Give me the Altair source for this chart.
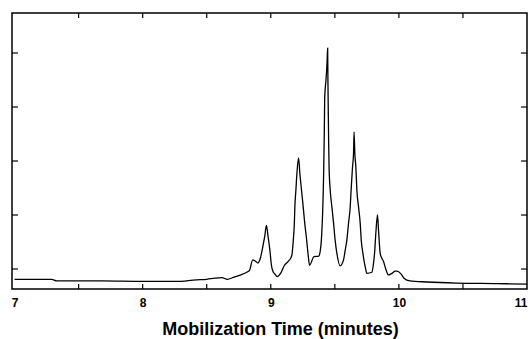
import altair as alt
import pandas as pd

# Trace (time in minutes, signal in tick units)
time_min = [7.0, 7.29, 7.33, 7.68, 8.0, 8.26, 8.42, 8.5, 8.564, 8.62, 8.66,
            8.713, 8.766, 8.82, 8.833, 8.859, 8.883, 8.899, 8.915, 8.939, 8.953,
            8.966, 8.979, 8.993, 9.005, 9.018, 9.031, 9.05, 9.079, 9.107, 9.132,
            9.155, 9.165, 9.171, 9.176, 9.184, 9.188, 9.196, 9.204, 9.217, 9.227,
            9.24, 9.253, 9.265, 9.28, 9.293, 9.303, 9.337, 9.375, 9.387, 9.395,
            9.413, 9.418, 9.421, 9.431, 9.439, 9.444, 9.446, 9.449, 9.452, 9.455,
            9.464, 9.477, 9.49, 9.502, 9.516, 9.541, 9.568, 9.581, 9.594, 9.607,
            9.62, 9.627, 9.638, 9.646, 9.65, 9.656, 9.664, 9.672, 9.685, 9.698,
            9.706, 9.719, 9.737, 9.75, 9.789, 9.802, 9.81, 9.82, 9.833, 9.841,
            9.854, 9.867, 9.88, 9.9, 9.919, 9.945, 9.971, 9.986, 10.016, 10.04,
            10.086, 10.22, 10.45, 10.77, 11.0]
signal = [-0.19, -0.19, -0.22, -0.22, -0.23, -0.23, -0.20, -0.19, -0.17, -0.16,
          -0.19, -0.15, -0.11, -0.05, -0.03, 0.17, 0.14, 0.11, 0.17, 0.43, 0.61,
          0.81, 0.60, 0.35, 0.07, -0.05, -0.09, -0.14, -0.07, 0.07, 0.13,
          0.20, 0.26, 0.39, 0.54, 0.85, 1.15, 1.46, 1.77, 2.06, 1.77,
          1.46, 1.15, 0.85, 0.54, 0.23, 0.07, 0.23, 0.24, 0.35, 0.54,
          1.83, 2.57, 3.19, 3.50, 3.81, 4.09, 3.50, 2.89, 2.30, 1.89,
          1.46, 1.15, 0.85, 0.54, 0.29, 0.06, 0.17, 0.35, 0.54, 0.85,
          1.15, 1.46, 1.89, 2.14, 2.54, 2.14, 1.89, 1.46, 1.15, 0.85,
          0.54, 0.29, 0.04, -0.08, -0.06, 0.11, 0.29, 0.66, 1.00, 0.72,
          0.29, 0.20, 0.14, -0.02, -0.11, -0.08, -0.04, -0.04, -0.09, -0.17,
          -0.22, -0.24, -0.26, -0.27, -0.28]

x_labels = [7, 8, 9, 10, 11]
x_ticks = [7.5, 8, 8.5, 9, 9.5, 10, 10.5]
y_ticks = [0, 1, 2, 3, 4]

W, H = 515, 276
x_scale = alt.Scale(domain=[6.98, 11.0], nice=False, zero=False)
y_scale = alt.Scale(domain=[-0.370, 4.741], nice=False, zero=False)
x_axis = alt.Axis(values=x_labels, format="d", ticks=False, domain=False, grid=False,
                  labelFlush=False, labelOverlap=False,
                  labelAlign=alt.condition("datum.value >= 11",
                                           alt.value("right"), alt.value("center")),
                  labelFont="Liberation Sans", labelFontSize=12, labelFontWeight="bold",
                  labelColor="black", labelPadding=8,
                  title="Mobilization Time (minutes)", titleFont="Liberation Sans",
                  titleFontSize=18, titleFontWeight="bold", titleColor="black",
                  titlePadding=12, titleX=268)

trace_df = pd.DataFrame({"x": time_min, "y": signal})
xt_df = pd.DataFrame({"x": x_ticks})
yt_df = pd.DataFrame({"y": y_ticks})

X = alt.X("x:Q", scale=x_scale, axis=x_axis)
Y = alt.Y("y:Q", scale=y_scale, axis=None)

line = alt.Chart(trace_df).mark_line(color="black", strokeWidth=1.3,
                                     interpolate="monotone", clip=True).encode(x=X, y=Y)

bottom_ticks = alt.Chart(xt_df).mark_rule(color="black", strokeWidth=1.2).encode(
    x=X, y=alt.value(H), y2=alt.value(H - 5))
top_ticks = alt.Chart(xt_df).mark_rule(color="black", strokeWidth=1.2).encode(
    x=X, y=alt.value(0), y2=alt.value(5))
left_ticks = alt.Chart(yt_df).mark_rule(color="black", strokeWidth=1.2).encode(
    y=Y, x=alt.value(0), x2=alt.value(6))
right_ticks = alt.Chart(yt_df).mark_rule(color="black", strokeWidth=1.2).encode(
    y=Y, x=alt.value(W), x2=alt.value(W - 6))

chart = alt.layer(line, bottom_ticks, top_ticks, left_ticks, right_ticks).properties(
    width=W, height=H,
    autosize=alt.AutoSizeParams(type="none"),
    padding={"left": 12, "top": 13, "right": 5, "bottom": 50},
    background="white",
).configure_view(stroke="black", strokeWidth=1.5)

chart.save("out.html", embed_options={"renderer": "svg", "actions": False})
